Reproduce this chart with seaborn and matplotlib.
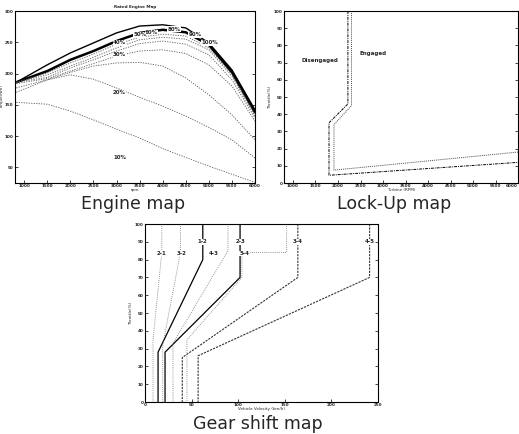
import numpy as np
import pandas as pd
import matplotlib
matplotlib.use("Agg")
import matplotlib.pyplot as plt
import seaborn as sns

# ---- engine map data (rpm vs torque for each throttle) ----
rpm = [826, 1500, 2000, 2500, 3000, 3500, 4000, 4500, 5000, 5500, 6000]
tq_100 = [186, 214, 233, 249, 265, 276, 278, 273, 249, 206, 142]
tq_90 = [186, 204, 222, 236, 252, 265, 270, 266, 246, 202, 138]
tq_80 = [186, 201, 217, 231, 247, 258, 263, 260, 241, 199, 135]
tq_60 = [186, 198, 212, 226, 241, 254, 258, 255, 238, 196, 132]
tq_50 = [186, 194, 209, 222, 236, 248, 252, 247, 230, 190, 129]
tq_40 = [184, 192, 204, 216, 228, 236, 238, 232, 214, 180, 124]
tq_30 = [177, 190, 202, 212, 217, 218, 212, 193, 166, 134, 94]
tq_20 = [170, 190, 198, 191, 177, 162, 148, 132, 114, 94, 65]
tq_10 = [154, 151, 140, 126, 111, 97, 80, 66, 52, 39, 26]
eng_labels = ["100%", "90%", "80%", "60%", "50%", "40%", "30%", "20%", "10%"]
eng_lab_x = [5020, 4700, 4240, 3760, 3500, 3065, 3065, 3065, 3065]
eng_lab_y = [249, 262, 271, 266, 262, 249, 230, 169, 66]

# ---- lock-up map data ----
lu_off_x = [2220, 2220, 1800, 1800, 6000]
lu_off_y = [100, 46, 35, 4.5, 12]
lu_on_x = [2300, 2300, 1910, 1910, 6000]
lu_on_y = [100, 45, 34, 7.5, 18]

# ---- gear shift map data (km/h vs throttle) ----
up_12_x = [62, 62, 14, 14]
up_12_y = [100, 80, 28, 0]
up_23_x = [102, 102, 21.5, 21.5]
up_23_y = [100, 70, 28, 0]
up_34_x = [164, 164, 40, 40]
up_34_y = [100, 70, 25, 0]
up_45_x = [241, 241, 57, 57]
up_45_y = [100, 70, 26, 0]
dn_21_x = [18, 18, 8.6, 8.6]
dn_21_y = [100, 84, 35, 0]
dn_32_x = [38, 38, 19, 19]
dn_32_y = [100, 84, 32, 0]
dn_43_x = [89, 89, 30, 30]
dn_43_y = [100, 85, 33, 0]
dn_54_x = [152, 152, 104, 104, 45, 45]
dn_54_y = [100, 84, 84, 70, 35, 0]
gear_labels = ["1-2", "2-3", "3-4", "4-5", "2-1", "3-2", "4-3", "5-4"]
gear_lab_x = [62, 103, 164, 241, 18, 39, 74, 107]
gear_lab_y = [90, 90, 90, 90, 83.5, 83.5, 83.5, 83.5]

sns.set_style("white")
plt.rcParams["font.family"] = ["DejaVu Sans"]

fig = plt.figure(figsize=(5.19, 4.34), dpi=100)
ax1 = fig.add_axes([0.0289, 0.5783, 0.4624, 0.3963])
ax2 = fig.add_axes([0.5472, 0.5783, 0.4509, 0.3963])
ax3 = fig.add_axes([0.2794, 0.0737, 0.4489, 0.4101])

tiny = 3


def line(ax, x, y, **kw):
    sns.lineplot(x=x, y=y, ax=ax, sort=False, estimator=None, **kw)


# engine map
line(ax1, rpm, tq_100, color="black", lw=1.0)
line(ax1, rpm, tq_90, color="black", lw=1.8)
for tq in [tq_80, tq_60, tq_50, tq_40, tq_30, tq_20, tq_10]:
    line(ax1, rpm, tq, color="0.35", lw=0.6, linestyle=(0, (1.5, 1.5)))
for t, x, y in zip(eng_labels, eng_lab_x, eng_lab_y):
    ax1.text(x, y, t, fontsize=4, fontweight="bold", ha="center", va="center",
             bbox=dict(fc="white", ec="none", pad=0.2))
ax1.set_xlim(800, 6000)
ax1.set_ylim(25, 300)
ax1.set_xticks(range(1000, 6001, 500))
ax1.set_yticks(range(50, 301, 50))
ax1.set_title("Rated Engine Map", fontsize=tiny, fontweight="bold", pad=2)
ax1.set_xlabel("rpm", fontsize=tiny, labelpad=0)
ax1.set_ylabel("Torque(Nm)", fontsize=tiny)
ax1.yaxis.set_label_coords(-0.045, 0.5)

# lock-up map
line(ax2, lu_off_x, lu_off_y, color="black", lw=0.7, linestyle=(0, (3, 1, 1, 1)))
line(ax2, lu_on_x, lu_on_y, color="0.3", lw=0.7, linestyle=(0, (1, 1)))
ax2.annotate("Disengaged", xy=(2220, 68), xytext=(1600, 71.5), fontsize=4,
             fontweight="bold", ha="center", va="center",
             arrowprops=dict(arrowstyle="->", lw=0.4))
ax2.annotate("Engaged", xy=(2300, 82), xytext=(2770, 75.5), fontsize=4,
             fontweight="bold", ha="center", va="center",
             arrowprops=dict(arrowstyle="->", lw=0.4))
ax2.set_xlim(800, 6000)
ax2.set_ylim(0, 100)
ax2.set_xticks(range(1000, 6001, 500))
ax2.set_yticks(range(0, 101, 10))
ax2.set_xlabel("Turbine (RPM)", fontsize=tiny, labelpad=0)
ax2.set_ylabel("Throttle(%)", fontsize=tiny, labelpad=1)

# gear shift map
for x, y in [(up_12_x, up_12_y), (up_23_x, up_23_y)]:
    line(ax3, x, y, color="black", lw=0.9)
for x, y in [(up_34_x, up_34_y), (up_45_x, up_45_y)]:
    line(ax3, x, y, color="0.2", lw=0.8, linestyle=(0, (2, 1)))
for x, y in [(dn_21_x, dn_21_y), (dn_32_x, dn_32_y), (dn_43_x, dn_43_y), (dn_54_x, dn_54_y)]:
    line(ax3, x, y, color="0.45", lw=0.6, linestyle=(0, (1, 1.5)))
for t, x, y in zip(gear_labels, gear_lab_x, gear_lab_y):
    ax3.text(x, y, t, fontsize=4, fontweight="bold", ha="center", va="center",
             bbox=dict(fc="white", ec="none", pad=0.2))
ax3.set_xlim(0, 250)
ax3.set_ylim(0, 100)
ax3.set_xticks(range(0, 251, 50))
ax3.set_yticks(range(0, 101, 10))
ax3.set_xlabel("Vehicle Velocity (km/h)", fontsize=tiny, labelpad=0)
ax3.set_ylabel("Throttle(%)", fontsize=tiny, labelpad=1)

for ax in [ax1, ax2, ax3]:
    for s in ax.spines.values():
        s.set_visible(True)
        s.set_color("black")
        s.set_linestyle((0, (1, 1)))
        s.set_linewidth(0.8)
    ax.spines["left"].set_linestyle("-")
    ax.tick_params(direction="in", length=2, width=0.6, labelsize=tiny,
                   pad=1, right=True, top=False, bottom=True, left=True)
    for lab in ax.get_xticklabels() + ax.get_yticklabels():
        lab.set_fontweight("bold")
# keep the last lock-up tick label inside the figure
ax2.get_xticklabels()[-1].set_ha("right")

fig.text(0.256, 0.530, "Engine map", fontsize=12.5, ha="center", va="center")
fig.text(0.759, 0.530, "Lock-Up map", fontsize=12.5, ha="center", va="center")
fig.text(0.496, 0.024, "Gear shift map", fontsize=12.5, ha="center", va="center")

fig.savefig("out.png", dpi=100)
